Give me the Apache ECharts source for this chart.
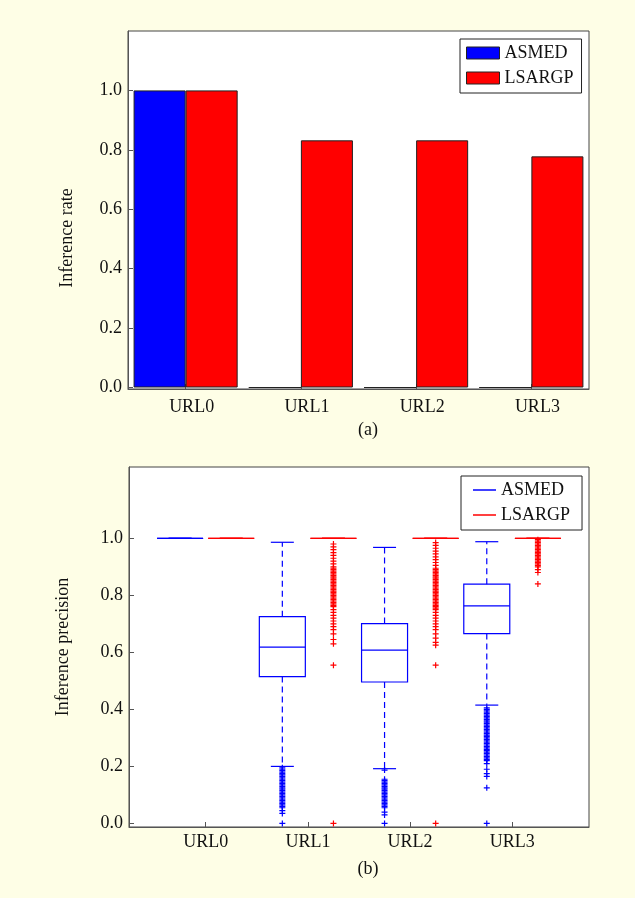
<!DOCTYPE html>
<html>
<head>
<meta charset="utf-8">
<script src="https://cdn.jsdelivr.net/npm/echarts@6/dist/echarts.min.js"></script>
<style>
  html, body { margin: 0; padding: 0; background: #fefee6; }
  #chart { width: 635px; height: 898px; }
</style>
</head>
<body>
<div id="chart"></div>
<script>
// ---------- data ----------
const categories = ['URL0', 'URL1', 'URL2', 'URL3'];
const seriesNames = ['ASMED', 'LSARGP'];
const yTicks = [0, 0.2, 0.4, 0.6, 0.8, 1.0];

// (a) inference rate
const rateASMED = [1, 0, 0, 0];
const rateLSARGP = [1, 0.832, 0.832, 0.778];

// (b) inference precision: [lower whisker, Q1, median, Q3, upper whisker]
const boxASMED = [
  [1, 1, 1, 1, 1],
  [0.200, 0.515, 0.618, 0.725, 0.986],
  [0.192, 0.496, 0.608, 0.701, 0.968],
  [0.415, 0.666, 0.763, 0.839, 0.988]
];
const boxLSARGP = [
  [1, 1, 1, 1, 1],
  [1, 1, 1, 1, 1],
  [1, 1, 1, 1, 1],
  [1, 1, 1, 1, 1]
];

// outliers per URL
const outASMED = [
  [],
  [0.195, 0.19, 0.185, 0.18, 0.175, 0.17, 0.165, 0.16, 0.155, 0.15, 0.145, 0.14, 0.135, 0.13, 0.125, 0.12,
   0.115, 0.11, 0.105, 0.1, 0.095, 0.09, 0.085, 0.08, 0.075, 0.07, 0.065, 0.06, 0.055, 0.045, 0.035, 0],
  [0.187, 0.155, 0.15, 0.145, 0.14, 0.135, 0.13, 0.125, 0.12, 0.115, 0.11, 0.105, 0.1, 0.095, 0.09,
   0.085, 0.08, 0.075, 0.07, 0.065, 0.06, 0.055, 0.04, 0.03, 0],
  [0.405, 0.4, 0.395, 0.39, 0.385, 0.38, 0.375, 0.37, 0.365, 0.36, 0.355, 0.35, 0.345, 0.34, 0.335, 0.33,
   0.325, 0.32, 0.315, 0.31, 0.305, 0.3, 0.295, 0.29, 0.285, 0.28, 0.275, 0.27, 0.265, 0.26, 0.255, 0.25,
   0.245, 0.24, 0.235, 0.23, 0.225, 0.22, 0.21, 0.19, 0.175, 0.165, 0.125, 0]
];
const outLSARGP = [
  [],
  [0.98, 0.97, 0.96, 0.95, 0.94, 0.93, 0.92, 0.91, 0.9, 0.895, 0.89, 0.885, 0.88, 0.875, 0.87, 0.865,
   0.86, 0.855, 0.85, 0.845, 0.84, 0.835, 0.83, 0.825, 0.82, 0.815, 0.81, 0.805, 0.8, 0.795, 0.79, 0.785,
   0.78, 0.775, 0.77, 0.765, 0.76, 0.75, 0.74, 0.73, 0.72, 0.71, 0.7, 0.69, 0.68, 0.665, 0.645, 0.63, 0.555, 0],
  [0.985, 0.975, 0.965, 0.955, 0.945, 0.935, 0.925, 0.915, 0.905, 0.895, 0.89, 0.885, 0.88, 0.875, 0.87,
   0.865, 0.86, 0.855, 0.85, 0.845, 0.84, 0.835, 0.83, 0.825, 0.82, 0.815, 0.81, 0.805, 0.8, 0.795, 0.79,
   0.785, 0.78, 0.775, 0.77, 0.765, 0.76, 0.755, 0.75, 0.74, 0.73, 0.72, 0.71, 0.7, 0.69, 0.68, 0.665,
   0.65, 0.635, 0.625, 0.555, 0],
  [0.995, 0.99, 0.985, 0.98, 0.975, 0.97, 0.965, 0.96, 0.955, 0.95, 0.945, 0.94, 0.935, 0.93, 0.925,
   0.92, 0.915, 0.91, 0.905, 0.9, 0.89, 0.88, 0.84]
];

// ---------- styling ----------
const FONT = 'Liberation Serif';
const BLUE = '#0000ff';
const RED = '#ff0000';
const TXT = '#111';
const AXIS = '#555';

// slot positions on the (b) x axis: ASMED at 1,3,5,7 ; LSARGP at 2,4,6,8
const posASMED = categories.map((c, i) => 2 * i + 1);
const posLSARGP = categories.map((c, i) => 2 * i + 2);
const posLabel = categories.map((c, i) => 2 * i + 1.5);

function boxData(pos, boxes) {
  return boxes.map((b, i) => [pos[i]].concat(b));
}
function outlierData(pos, outs) {
  const res = [];
  outs.forEach((arr, i) => arr.forEach(v => res.push([pos[i], v])));
  return res;
}

function boxRenderer(color) {
  return function (params, api) {
    const x = api.value(0);
    const lo = api.coord([x, api.value(1)]);
    const q1 = api.coord([x, api.value(2)]);
    const med = api.coord([x, api.value(3)]);
    const q3 = api.coord([x, api.value(4)]);
    const hi = api.coord([x, api.value(5)]);
    const half = api.size([0.9, 0])[0] / 2;
    const cap = half / 2;
    const cx = q1[0];
    const solid = { stroke: color, lineWidth: 1.2, fill: null };
    const dashed = { stroke: color, lineWidth: 1.2, lineDash: [6, 4], fill: null };
    return {
      type: 'group',
      children: [
        { type: 'line', shape: { x1: cx, y1: q3[1], x2: cx, y2: hi[1] }, style: dashed },
        { type: 'line', shape: { x1: cx, y1: q1[1], x2: cx, y2: lo[1] }, style: dashed },
        { type: 'line', shape: { x1: cx - cap, y1: hi[1], x2: cx + cap, y2: hi[1] }, style: solid },
        { type: 'line', shape: { x1: cx - cap, y1: lo[1], x2: cx + cap, y2: lo[1] }, style: solid },
        { type: 'rect', shape: { x: cx - half, y: q3[1], width: 2 * half, height: q1[1] - q3[1] }, style: solid },
        { type: 'line', shape: { x1: cx - half, y1: med[1], x2: cx + half, y2: med[1] }, style: solid }
      ]
    };
  };
}

const plusSymbol = 'path://M5,0L5,10M0,5L10,5';

const yAxisCommon = {
  type: 'value',
  splitLine: { show: false },
  axisLine: { show: true, lineStyle: { color: AXIS, width: 1 } },
  axisTick: { show: true, inside: true, length: 5, lineStyle: { color: AXIS }, customValues: yTicks },
  axisLabel: {
    fontFamily: FONT, fontSize: 18, color: TXT, margin: 6,
    customValues: yTicks, formatter: v => v.toFixed(1)
  },
  nameLocation: 'middle',
  nameRotate: 90
};

const legendCommon = {
  orient: 'vertical',
  backgroundColor: '#fff',
  borderColor: '#222',
  borderWidth: 1,
  borderRadius: 0,
  itemGap: 7,
  textStyle: { fontFamily: FONT, fontSize: 18, color: TXT, lineHeight: 18 },
  data: seriesNames
};

const option = {
  backgroundColor: '#fefee6',
  animation: false,
  title: [
    { text: '(a)', left: 368, top: 421, textAlign: 'center', padding: 0,
      textStyle: { fontFamily: FONT, fontSize: 18, fontWeight: 'normal', color: TXT } },
    { text: '(b)', left: 368, top: 860, textAlign: 'center', padding: 0,
      textStyle: { fontFamily: FONT, fontSize: 18, fontWeight: 'normal', color: TXT } }
  ],
  legend: [
    Object.assign({}, legendCommon, {
      left: 460, top: 39, padding: [5, 8, 6, 6],
      itemWidth: 33, itemHeight: 12, itemTextGap: 4, icon: 'rect',
      itemStyle: { borderColor: '#222', borderWidth: 1 }
    }),
    Object.assign({}, legendCommon, {
      left: 461, top: 476, padding: [5, 12, 6, 12],
      itemWidth: 23, itemHeight: 1.5, itemTextGap: 6, icon: 'rect',
      itemStyle: { borderWidth: 0 }
    })
  ],
  grid: [
    { left: 128, top: 31, width: 461, height: 358, show: true, backgroundColor: '#fff',
      borderColor: '#444', borderWidth: 1 },
    { left: 129, top: 467, width: 460, height: 360, show: true, backgroundColor: '#fff',
      borderColor: '#444', borderWidth: 1 }
  ],
  xAxis: [
    {
      gridIndex: 0, type: 'category', data: categories,
      axisLine: { show: true, onZero: false, lineStyle: { color: AXIS } },
      axisTick: { show: true, inside: true, alignWithLabel: true, length: 5, lineStyle: { color: AXIS } },
      axisLabel: { fontFamily: FONT, fontSize: 18, color: TXT, margin: 9, padding: [0, 0, 0, 12] }
    },
    {
      gridIndex: 1, type: 'value', min: 0, max: 9,
      splitLine: { show: false },
      axisLine: { show: true, onZero: false, lineStyle: { color: AXIS } },
      axisTick: { show: true, inside: true, length: 5, lineStyle: { color: AXIS }, customValues: posLabel },
      axisLabel: {
        fontFamily: FONT, fontSize: 18, color: TXT, margin: 6,
        customValues: posLabel,
        formatter: v => categories[Math.round((v - 1.5) / 2)]
      }
    }
  ],
  yAxis: [
    Object.assign({}, yAxisCommon, {
      gridIndex: 0, min: -0.005, max: 1.2,
      name: 'Inference rate', nameGap: 52,
      nameTextStyle: { fontFamily: FONT, fontSize: 18, color: TXT, padding: [0, 56, 0, 0] }
    }),
    Object.assign({}, yAxisCommon, {
      gridIndex: 1, min: -0.0125, max: 1.25,
      name: 'Inference precision', nameGap: 57,
      nameTextStyle: { fontFamily: FONT, fontSize: 18, color: TXT }
    })
  ],
  series: [
    {
      name: seriesNames[0], type: 'bar', xAxisIndex: 0, yAxisIndex: 0,
      data: rateASMED, barGap: '0%', barCategoryGap: '9.7%',
      itemStyle: { color: BLUE, borderColor: '#222', borderWidth: 1 }
    },
    {
      name: seriesNames[1], type: 'bar', xAxisIndex: 0, yAxisIndex: 0,
      data: rateLSARGP, barGap: '0%', barCategoryGap: '9.7%',
      itemStyle: { color: RED, borderColor: '#222', borderWidth: 1 }
    },
    {
      name: seriesNames[0], type: 'custom', xAxisIndex: 1, yAxisIndex: 1,
      data: boxData(posASMED, boxASMED), renderItem: boxRenderer(BLUE),
      itemStyle: { color: BLUE }, encode: { x: 0, y: [1, 2, 3, 4, 5] }, z: 3
    },
    {
      name: seriesNames[1], type: 'custom', xAxisIndex: 1, yAxisIndex: 1,
      data: boxData(posLSARGP, boxLSARGP), renderItem: boxRenderer(RED),
      itemStyle: { color: RED }, encode: { x: 0, y: [1, 2, 3, 4, 5] }, z: 3
    },
    {
      name: 'ASMED outliers', type: 'scatter', xAxisIndex: 1, yAxisIndex: 1,
      data: outlierData(posASMED, outASMED), symbol: plusSymbol, symbolSize: 6,
      itemStyle: { color: 'none', borderColor: BLUE, borderWidth: 1.2, opacity: 1 }, z: 4
    },
    {
      name: 'LSARGP outliers', type: 'scatter', xAxisIndex: 1, yAxisIndex: 1,
      data: outlierData(posLSARGP, outLSARGP), symbol: plusSymbol, symbolSize: 6,
      itemStyle: { color: 'none', borderColor: RED, borderWidth: 1.2, opacity: 1 }, z: 4
    }
  ]
};

const chart = echarts.init(document.getElementById('chart'), null, { renderer: 'canvas' });
chart.setOption(option);
</script>
</body>
</html>
